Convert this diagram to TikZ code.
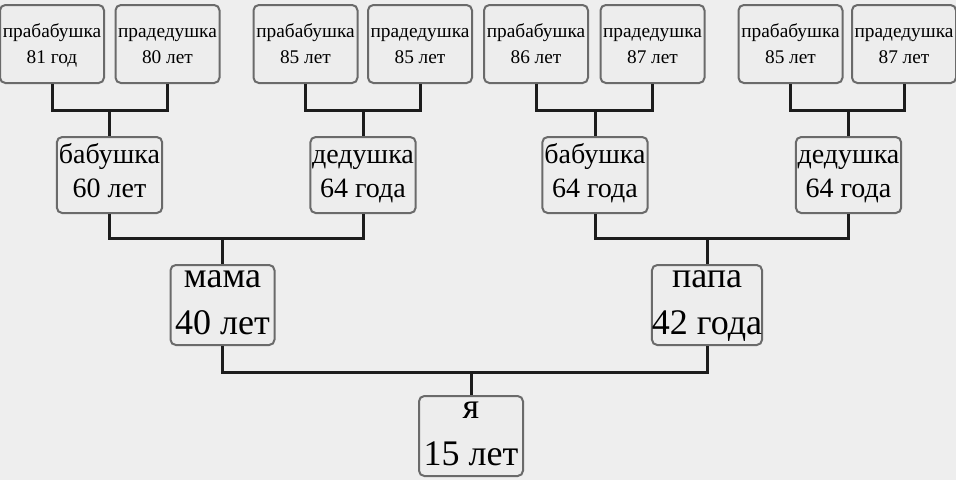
\documentclass[tikz,border=0pt]{standalone}
\usepackage{fontspec}
\setmainfont{Liberation Serif}
\usepackage{tikz}

\definecolor{bggray}{HTML}{EEEEEE}
\definecolor{boxfill}{HTML}{EDEDED}
\definecolor{boxline}{HTML}{6A6A6A}
\definecolor{linkcol}{HTML}{1C1C1C}

\tikzset{
    box/.style={draw=boxline, fill=boxfill, line width=1.5pt, rounded corners=4pt,
        inner sep=0pt, align=center},
    greatbox/.style={box, minimum width=78pt, minimum height=58.5pt,
        text height=33pt, text depth=4.5pt,
        font=\fontsize{14.5}{19}\selectfont},
    grandbox/.style={box, minimum width=79pt, minimum height=57pt,
        text height=39pt, text depth=6pt,
        font=\fontsize{21}{25.5}\selectfont},
    parentbox/.style={box, minimum width=78pt, minimum height=60pt,
        text height=51pt, text depth=7.5pt,
        font=\fontsize{27}{35}\selectfont},
    link/.style={draw=linkcol, line width=2.25pt}
}

\begin{document}
\begin{tikzpicture}[x=0.75pt, y=-0.75pt]
    % Background
    \fill[bggray] (0,0) rectangle (956,480);
    \useasboundingbox (0,0) rectangle (956,480);

    % Great-grandparents
    \node[greatbox] (gg1) at (52,44)    {прабабушка\\81 год};
    \node[greatbox] (gg2) at (167.5,44) {прадедушка\\80 лет};
    \node[greatbox] (gg3) at (305.5,44) {прабабушка\\85 лет};
    \node[greatbox] (gg4) at (420,44)   {прадедушка\\85 лет};
    \node[greatbox] (gg5) at (536,44)   {прабабушка\\86 лет};
    \node[greatbox] (gg6) at (652.5,44) {прадедушка\\87 лет};
    \node[greatbox] (gg7) at (790.5,44) {прабабушка\\85 лет};
    \node[greatbox] (gg8) at (904,44)   {прадедушка\\87 лет};

    % Grandparents
    \node[grandbox] (g1) at (109.5,175) {бабушка\\60 лет};
    \node[grandbox] (g2) at (363,175)   {дедушка\\64 года};
    \node[grandbox] (g3) at (595,175)   {бабушка\\64 года};
    \node[grandbox] (g4) at (848.5,175) {дедушка\\64 года};

    % Parents and me
    \node[parentbox] (mama) at (222.5,305) {мама\\40 лет};
    \node[parentbox] (papa) at (707,305)   {папа\\42 года};
    \node[parentbox] (me) at (471,436)     {я\\15 лет};

    % Links between generations
    \foreach \kid/\ma/\pa in {g1/gg1/gg2, g2/gg3/gg4, g3/gg5/gg6, g4/gg7/gg8} {
        \coordinate (j-\kid) at (\kid.north |- 0,110);
        \draw[link] (\ma.south) |- (j-\kid) -| (\pa.south);
        \draw[link] (j-\kid) -- (\kid.north);
    }
    \coordinate (j-mama) at (mama.north |- 0,238);
    \draw[link] (g1.south) |- (j-mama) -| (g2.south);
    \draw[link] (j-mama) -- (mama.north);
    \coordinate (j-papa) at (papa.north |- 0,238);
    \draw[link] (g3.south) |- (j-papa) -| (g4.south);
    \draw[link] (j-papa) -- (papa.north);
    \coordinate (j-me) at (me.north |- 0,372);
    \draw[link] (mama.south) |- (j-me) -| (papa.south);
    \draw[link] (j-me) -- (me.north);
\end{tikzpicture}
\end{document}
